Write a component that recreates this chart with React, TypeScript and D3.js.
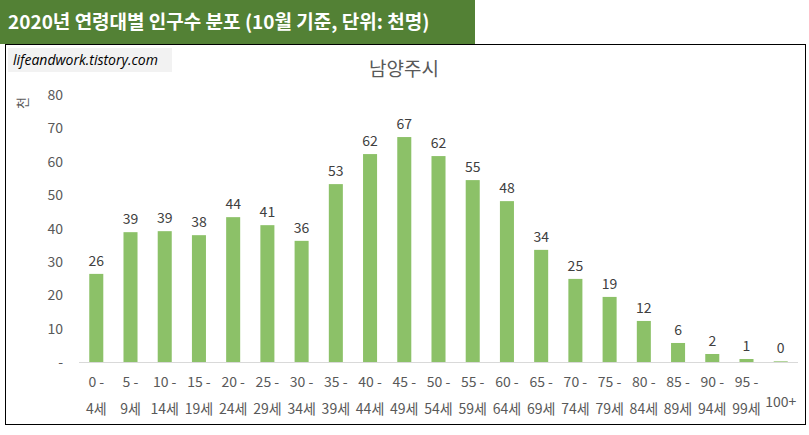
import React from "react";
import * as d3 from "d3";

const lines1 = ["0 -","5 -","10 -","15 -","20 -","25 -","30 -","35 -","40 -","45 -","50 -","55 -","60 -","65 -","70 -","75 -","80 -","85 -","90 -","95 -","100+"];
const lines2 = ["4세","9세","14세","19세","24세","29세","34세","39세","44세","49세","54세","59세","64세","69세","74세","79세","84세","89세","94세","99세",""];
const values = [26.4,38.9,39.2,38,43.4,41,36.3,53.3,62.3,67.4,61.7,54.5,48.2,33.6,24.9,19.5,12.3,5.7,2.4,0.9,0.2];
const labels = [26,39,39,38,44,41,36,53,62,67,62,55,48,34,25,19,12,6,2,1,0];
const yTicks = [0,10,20,30,40,50,60,70,80];

export default function App() {
  const font = "'Malgun Gothic','Noto Sans CJK KR',sans-serif";
  const x = d3.scaleBand<number>().domain(d3.range(values.length)).range([79, 798]).paddingInner(0.59).paddingOuter(0.3);
  const y = d3.scaleLinear().domain([0, 80]).range([362, 95]);
  return (
    <svg width={809} height={435} style={{ position: "absolute", left: 0, top: 0 }} fontFamily={font}>
      <rect width={809} height={435} fill="#fff" />
      <rect x={5.5} y={44.5} width={800} height={380} fill="#fff" stroke="#000" />
      <rect x={0} y={0} width={475} height={44} fill="#538135" />
      <text x={8} y={29} fill="#fff" fontSize={19} fontWeight="bold">2020년 연령대별 인구수 분포 (10월 기준, 단위: 천명)</text>
      <rect x={8} y={48} width={164} height={24} fill="#f2f2f2" />
      <text x={13} y={65} fontSize={14} fontStyle="italic" fill="#000" fontFamily="'Open Sans',sans-serif">lifeandwork.tistory.com</text>
      <text x={404} y={76} textAnchor="middle" fontSize={19} fill="#595959">남양주시</text>
      <text transform="translate(27,103) rotate(-90)" textAnchor="middle" fontSize={13} fill="#595959">천</text>
      {yTicks.map(t => (
        <text key={t} x={63} y={y(t) + 5} textAnchor="end" fontSize={14} fill="#595959">{t === 0 ? "-" : t}</text>
      ))}
      <line x1={79} x2={798} y1={362.5} y2={362.5} stroke="#d9d9d9" />
      {values.map((v, i) => (
        <g key={i}>
          <rect x={x(i)} y={y(v)} width={x.bandwidth()} height={362 - y(v)} fill="#8cc168" />
          <text x={x(i)! + x.bandwidth() / 2} y={y(v) - 8} textAnchor="middle" fontSize={14} fill="#404040">{labels[i]}</text>
          {lines2[i] ? (
            <>
              <text x={x(i)! + x.bandwidth() / 2} y={387} textAnchor="middle" fontSize={14} fill="#595959">{lines1[i]}</text>
              <text x={x(i)! + x.bandwidth() / 2} y={414} textAnchor="middle" fontSize={14} fill="#595959">{lines2[i]}</text>
            </>
          ) : (
            <text x={x(i)! + x.bandwidth() / 2} y={407} textAnchor="middle" fontSize={14} fill="#595959">{lines1[i]}</text>
          )}
        </g>
      ))}
    </svg>
  );
}
